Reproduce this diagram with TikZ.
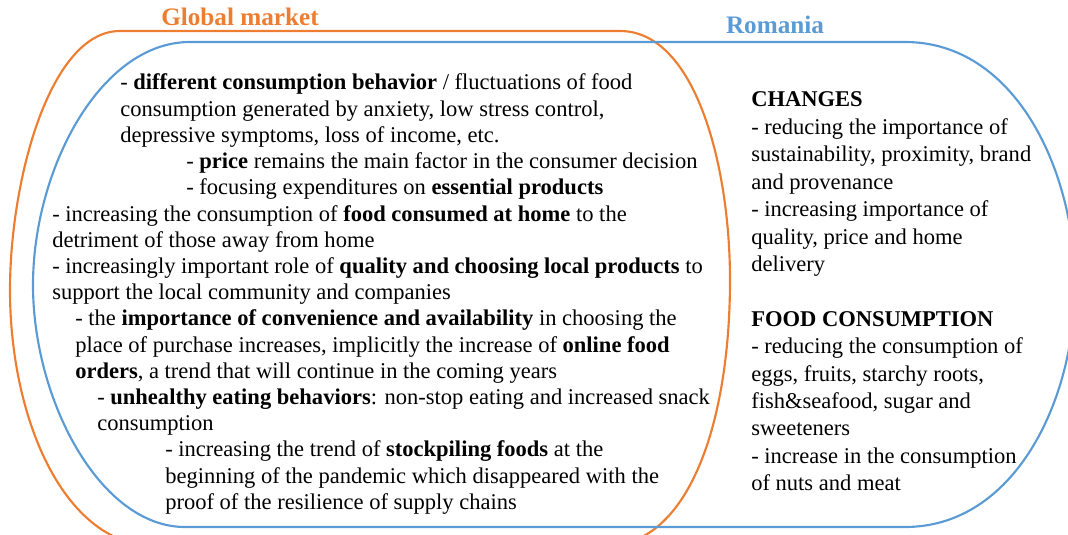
\documentclass[tikz,border=0pt]{standalone}
\usepackage{fontspec}
\setmainfont{Liberation Serif}
\definecolor{gorange}{HTML}{ED7D31}
\definecolor{rblue}{HTML}{5B9BD5}
\tikzset{
  ln/.style={anchor=base west, inner sep=0pt, font=\fontsize{16.9}{20}\selectfont},
  ttl/.style={anchor=base, inner sep=0pt, font=\fontsize{18.9}{22}\selectfont\bfseries},
  orangeline/.style={draw=gorange, line width=1.6pt},
  blueline/.style={draw=rblue, line width=1.6pt}
}
\begin{document}
\begin{tikzpicture}[x=0.75pt,y=-0.75pt]
\useasboundingbox (0,0) rectangle (1068,535);
\begin{scope}
\clip (0,0) rectangle (1068,535);
% Global market shape
\path[orangeline] (120,31) -- (620,31)
  .. controls (695,31) and (730,165) .. (730,280)
  .. controls (730,420) and (690,546) .. (605,546)
  -- (155,546)
  .. controls (65,546) and (10,420) .. (10,290)
  .. controls (10,180) and (50,31) .. (120,31) -- cycle;
% Romania shape
\path[blueline] (190,42) -- (905,42)
  .. controls (1015,42) and (1075,170) .. (1075,285)
  .. controls (1075,400) and (1015,527) .. (905,527)
  -- (185,527)
  .. controls (100,527) and (33,400) .. (33,285)
  .. controls (33,170) and (100,42) .. (190,42) -- cycle;
\end{scope}
% titles
\node[ttl, text=gorange] (tg) at (240,26) {Global market};
\node[ttl, text=rblue] (tr) at (775,34) {Romania};
% left text
\node[ln] (l1) at (120,90) {- \textbf{different consumption behavior} / fluctuations of food};
\node[ln] (l2) at (120,116.2) {consumption generated by anxiety, low stress control,};
\node[ln] (l3) at (120,142.4) {depressive symptoms, loss of income, etc.};
\node[ln] (l4) at (186,168.6) {- \textbf{price} remains the main factor in the consumer decision};
\node[ln] (l5) at (186,194.8) {- focusing expenditures on \textbf{essential products}};
\node[ln] (l6) at (52,221) {- increasing the consumption of \textbf{food consumed at home} to the};
\node[ln] (l7) at (52,247.2) {detriment of those away from home};
\node[ln] (l8) at (52,273.4) {- increasingly important role of \textbf{quality and choosing local products} to};
\node[ln] (l9) at (52,299.6) {support the local community and companies};
\node[ln] (l10) at (75,325.8) {- the \textbf{importance of convenience and availability} in choosing the};
\node[ln] (l11) at (75,352) {place of purchase increases, implicitly the increase of \textbf{online food}};
\node[ln] (l12) at (75,378.2) {\textbf{orders}, a trend that will continue in the coming years};
\node[ln] (l13) at (97,404.4) {- \textbf{unhealthy eating behaviors}: non-stop eating and increased snack};
\node[ln] (l14) at (97,430.6) {consumption};
\node[ln] (l15) at (165,456.8) {- increasing the trend of \textbf{stockpiling foods} at the};
\node[ln] (l16) at (165,483) {beginning of the pandemic which disappeared with the};
\node[ln] (l17) at (165,509.2) {proof of the resilience of supply chains};
% right text
\node[ln] (r1) at (751,107) {\textbf{CHANGES}};
\node[ln] (r2) at (751,134.4) {- reducing the importance of};
\node[ln] (r3) at (751,161.8) {sustainability, proximity, brand};
\node[ln] (r4) at (751,189.2) {and provenance};
\node[ln] (r5) at (751,216.6) {- increasing importance of};
\node[ln] (r6) at (751,244) {quality, price and home};
\node[ln] (r7) at (751,271.4) {delivery};
\node[ln] (r8) at (751,326.2) {\textbf{FOOD CONSUMPTION}};
\node[ln] (r9) at (751,353.6) {- reducing the consumption of};
\node[ln] (r10) at (751,381) {eggs, fruits, starchy roots,};
\node[ln] (r11) at (751,408.4) {fish\&seafood, sugar and};
\node[ln] (r12) at (751,435.8) {sweeteners};
\node[ln] (r13) at (751,463.2) {- increase in the consumption};
\node[ln] (r14) at (751,490.6) {of nuts and meat};
\end{tikzpicture}
\end{document}
